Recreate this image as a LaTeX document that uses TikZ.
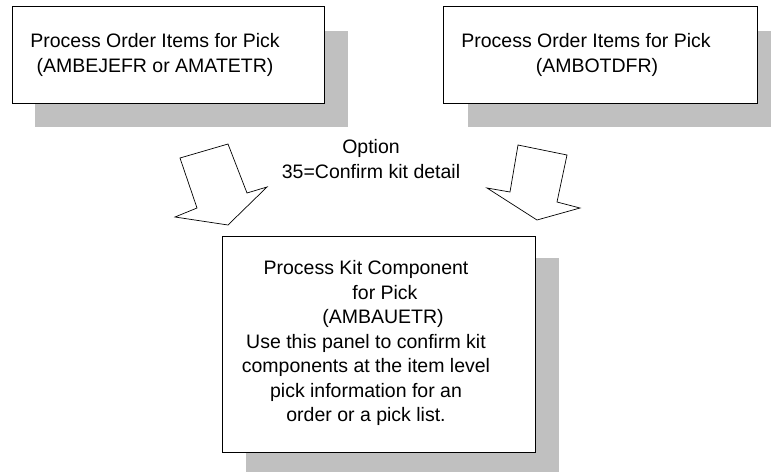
\documentclass[tikz,border=0pt]{standalone}
\usepackage{fontspec}
\setmainfont{Liberation Sans}
\begin{document}
\begin{tikzpicture}[x=1pt,y=-1pt,
  shadowbox/.style={fill={rgb,255:red,192;green,192;blue,192},draw=none},
  panel/.style={draw=black,fill=white,line width=0.9pt},
  blockarrow/.style={draw=black,fill=white,line width=0.7pt,line join=miter},
  txt/.style={align=center,inner sep=0pt,font=\fontsize{19.5}{24.5}\selectfont}]
\useasboundingbox (0,0) rectangle (771,472);
% shadows
\fill[shadowbox] (35,31) rectangle (348,127);
\fill[shadowbox] (468,31) rectangle (771,127);
\fill[shadowbox] (246,258) rectangle (559,472);
% panels
\draw[panel] (12,6) rectangle (324,103);
\draw[panel] (443,6) rectangle (757,103);
\draw[panel] (222,236) rectangle (535,452);
% texts
\node[txt] (t1) at (155,55) {Process Order Items for Pick\\(AMBEJEFR or AMATETR)};
\node[txt] (t2) at (586,55) {Process Order Items for Pick\\\hspace*{22pt}(AMBOTDFR)};
\node[txt] (opt) at (371,159) {Option\\35=Confirm kit detail};
\node[txt] (t3) at (366,343) {Process Kit Component\\\hspace*{38pt}for Pick\\\hspace*{34pt}(AMBAUETR)\\Use this panel to confirm kit\\components at the item level\\pick information for an\\order or a pick list.};
% block arrows
\draw[blockarrow] (180,158) -- (228,144) -- (247,193) -- (267,187) -- (228,225) -- (175,217) -- (197,208) -- cycle;
\draw[blockarrow] (518,145) -- (567,155) -- (557,202) -- (580,208) -- (537,220) -- (487,188) -- (510,192) -- cycle;
\end{tikzpicture}
\end{document}
